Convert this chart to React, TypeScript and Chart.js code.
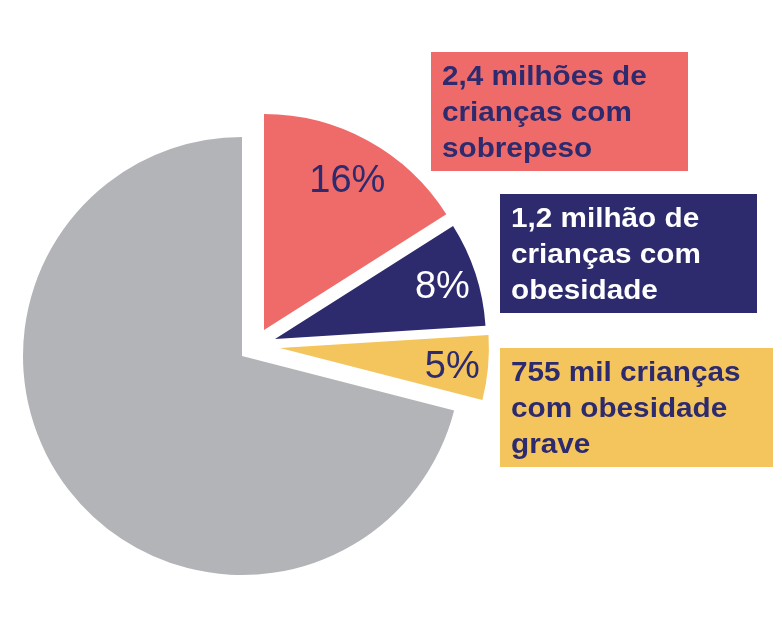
import React, { useEffect, useRef } from "react";
import { Chart, registerables } from "chart.js";

Chart.register(...registerables);

// ---- data ----
const categories = ["Sobrepeso", "Obesidade", "Obesidade grave", "Demais crianças"];
const shares = [16, 8, 5, 71];
const calloutLines = [
  ["2,4 milhões de", "crianças com", "sobrepeso"],
  ["1,2 milhão de", "crianças com", "obesidade"],
  ["755 mil crianças", "com obesidade", "grave"],
];

// ---- styles ----
const sliceColors = ["#EE6B6A", "#2D2A6E", "#F3C55C", "#B3B4B8"];
const percentColors = ["#2D2A6E", "#FFFFFF", "#2D2A6E", null];
const sliceShift = [
  [22, -26],
  [33, -17],
  [38, -8],
  [0, 0],
];
const sliceScale = [0.986, 0.963, 0.954, 1];
const labelRadius = [173, 176, 173, 0];
const calloutBoxes = [
  { x: 431, y: 52, w: 257, h: 119, bg: "#EE6B6A", fg: "#2D2A6E" },
  { x: 500, y: 194, w: 257, h: 119, bg: "#2D2A6E", fg: "#FFFFFF" },
  { x: 500, y: 348, w: 273, h: 119, bg: "#F3C55C", fg: "#2D2A6E" },
];

const explodePlugin = {
  id: "explode",
  beforeDatasetsDraw(chart: any) {
    const meta = chart.getDatasetMeta(0);
    const ctx = chart.ctx;
    meta.data.forEach((arc: any, i: number) => {
      const [dx, dy] = sliceShift[i] || [0, 0];
      const s = sliceScale[i] || 1;
      const { x, y } = arc.getProps(["x", "y"], true);
      ctx.save();
      ctx.translate(x + dx, y + dy);
      ctx.scale(s, s);
      ctx.translate(-x, -y);
      arc.draw(ctx);
      ctx.restore();
    });
    return false;
  },
  afterDraw(chart: any) {
    const ctx = chart.ctx;
    const meta = chart.getDatasetMeta(0);
    const total = shares.reduce((a, b) => a + b, 0);
    // percentage labels
    meta.data.forEach((arc: any, i: number) => {
      const color = percentColors[i];
      if (!color) return;
      const { x, y, startAngle, endAngle } = arc.getProps(["x", "y", "startAngle", "endAngle"], true);
      const mid = (startAngle + endAngle) / 2;
      const [dx, dy] = sliceShift[i];
      const d = labelRadius[i];
      const px = x + dx + Math.cos(mid) * d;
      const py = y + dy + Math.sin(mid) * d;
      ctx.save();
      ctx.fillStyle = color;
      ctx.font = "38px 'Liberation Sans', Arial, sans-serif";
      ctx.textAlign = "center";
      ctx.textBaseline = "alphabetic";
      ctx.fillText(Math.round((shares[i] / total) * 100) + "%", px, py + 13.5);
      ctx.restore();
    });
    // callout boxes
    calloutBoxes.forEach((b, i) => {
      ctx.save();
      ctx.fillStyle = b.bg;
      ctx.fillRect(b.x, b.y, b.w, b.h);
      ctx.fillStyle = b.fg;
      ctx.font = "bold 27px 'Liberation Sans', Arial, sans-serif";
      ctx.textAlign = "left";
      ctx.textBaseline = "alphabetic";
      calloutLines[i].forEach((line, j) => {
        ctx.save();
        ctx.translate(b.x + 11, b.y + 33 + j * 36);
        ctx.scale(1.1, 1);
        ctx.fillText(line, 0, 0);
        ctx.restore();
      });
      ctx.restore();
    });
  },
};

export default function App() {
  const ref = useRef<HTMLCanvasElement | null>(null);
  useEffect(() => {
    if (!ref.current) return;
    const chart = new Chart(ref.current, {
      type: "pie",
      data: {
        labels: categories,
        datasets: [
          {
            data: shares,
            backgroundColor: sliceColors,
            borderWidth: 0,
            offset: 0,
          },
        ],
      },
      options: {
        responsive: false,
        animation: false,
        devicePixelRatio: 1,
        radius: 219,
        events: [],
        layout: { padding: { left: 0, right: 298, top: 100, bottom: 25 } },
        plugins: {
          legend: { display: false },
          tooltip: { enabled: false },
        },
      },
      plugins: [explodePlugin],
    });
    return () => chart.destroy();
  }, []);
  return (
    <div style={{ position: "fixed", left: 0, top: 0, width: 782, height: 637, background: "#fff" }}>
      <canvas ref={ref} width={782} height={637} style={{ width: 782, height: 637, display: "block" }} />
    </div>
  );
}
